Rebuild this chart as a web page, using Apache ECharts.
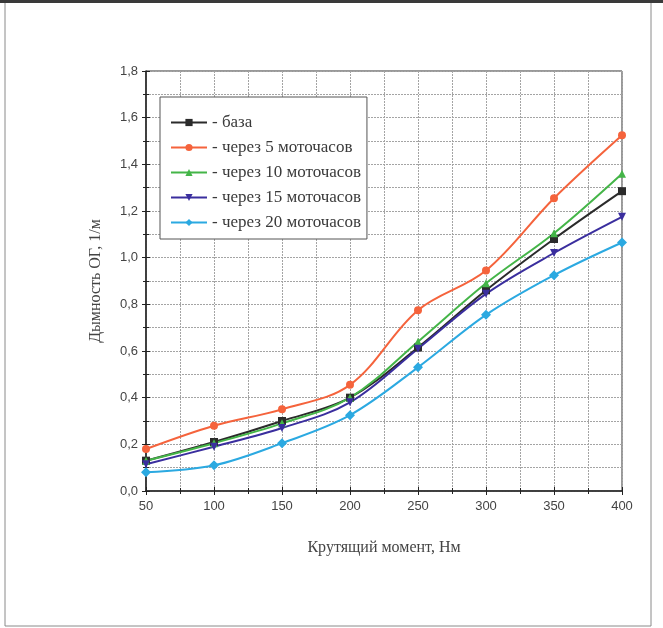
<!DOCTYPE html>
<html>
<head>
<meta charset="utf-8">
<script src="https://cdn.jsdelivr.net/npm/echarts@6/dist/echarts.min.js"></script>
<style>
  html, body { margin: 0; padding: 0; background: #fff; }
  #chart { width: 663px; height: 628px; }
</style>
</head>
<body>
<div id="chart"></div>
<script>
// Крутящий момент, Нм
const torque = [50, 100, 150, 200, 250, 300, 350, 400];

// Дымность ОГ, 1/м
const base   = [0.13, 0.21, 0.30, 0.40, 0.615, 0.86, 1.08, 1.285];
const after5  = [0.18, 0.28, 0.35, 0.455, 0.775, 0.945, 1.255, 1.525];
const after10 = [0.13, 0.205, 0.29, 0.40, 0.64, 0.89, 1.105, 1.36];
const after15 = [0.115, 0.19, 0.27, 0.38, 0.61, 0.845, 1.02, 1.175];
const after20 = [0.08, 0.11, 0.205, 0.325, 0.53, 0.755, 0.925, 1.065];

const yTicks = [0, 0.2, 0.4, 0.6, 0.8, 1.0, 1.2, 1.4, 1.6, 1.8];

const seriesDefs = [
  { name: 'база',               data: base,    color: '#2b2b2b', symbol: 'rect',     rotate: 0 },
  { name: 'через 5 моточасов',  data: after5,  color: '#f5633c', symbol: 'circle',   rotate: 0 },
  { name: 'через 10 моточасов', data: after10, color: '#44b548', symbol: 'triangle', rotate: 0 },
  { name: 'через 15 моточасов', data: after15, color: '#3a2e9e', symbol: 'triangle', rotate: 180 },
  { name: 'через 20 моточасов', data: after20, color: '#2ba9e1', symbol: 'diamond',  rotate: 0 }
];

const chart = echarts.init(document.getElementById('chart'), null, { renderer: 'canvas' });

const gridLine = { show: true, lineStyle: { color: '#a4a4a4', width: 1, type: [2, 1] } };
const axisText = { color: '#444', fontFamily: 'Liberation Sans', fontSize: 13 };

const option = {
  backgroundColor: '#fff',
  animation: false,
  graphic: [
    // page frame
    { type: 'rect', shape: { x: 5, y: 2, width: 646, height: 624 },
      style: { fill: 'none', stroke: '#8a8a8a', lineWidth: 1 }, silent: true },
    { type: 'line', shape: { x1: 0, y1: 1.5, x2: 663, y2: 1.5 },
      style: { stroke: '#3a3a3a', lineWidth: 3 }, silent: true }
  ],
  grid: {
    left: 146, right: 41, top: 71, bottom: 137,
    show: true, borderColor: '#333', borderWidth: 1, backgroundColor: 'transparent'
  },
  legend: {
    orient: 'vertical',
    left: 160, top: 97,
    padding: [17, 6, 8, 10],
    itemGap: 8,
    itemWidth: 36, itemHeight: 9,
    backgroundColor: '#fff',
    borderColor: '#555', borderWidth: 1,
    textStyle: { fontFamily: 'Liberation Serif', fontSize: 17, color: '#3a3a3a', lineHeight: 17 },
    formatter: name => '- ' + name,
    data: seriesDefs.map(s => s.name)
  },
  xAxis: [
    {
      type: 'value', min: 50, max: 400, interval: 50,
      name: 'Крутящий момент, Нм', nameLocation: 'middle', nameGap: 49,
      nameTextStyle: { fontFamily: 'Liberation Serif', fontSize: 16, color: '#444' },
      axisLine: { show: true, lineStyle: { color: '#222', width: 1.5 } },
      axisTick: { show: true, length: 4, lineStyle: { color: '#222' } },
      minorTick: { show: true, splitNumber: 2, length: 3, lineStyle: { color: '#222' } },
      axisLabel: Object.assign({ margin: 9 }, axisText),
      splitLine: gridLine,
      minorSplitLine: gridLine
    },
    {
      type: 'value', min: 50, max: 400, interval: 50, position: 'bottom', gridIndex: 0,
      axisLine: { show: false },
      axisTick: { show: true, inside: true, length: 4, lineStyle: { color: '#222' } },
      minorTick: { show: true, splitNumber: 2, length: 3, lineStyle: { color: '#222' } },
      axisLabel: { show: false }, splitLine: { show: false }
    }
  ],
  yAxis: [
    {
      type: 'value', min: 0, max: 1.8, interval: 0.2,
      name: 'Дымность ОГ, 1/м', nameLocation: 'middle', nameGap: 42,
      nameTextStyle: { fontFamily: 'Liberation Serif', fontSize: 16, color: '#444' },
      axisLine: { show: true, lineStyle: { color: '#222', width: 1.5 } },
      axisTick: { show: true, length: 4, lineStyle: { color: '#222' } },
      minorTick: { show: true, splitNumber: 2, length: 3, lineStyle: { color: '#222' } },
      axisLabel: Object.assign({
        margin: 8,
        formatter: v => {
          const t = yTicks.find(k => Math.abs(k - v) < 1e-6);
          return (t !== undefined ? t : v).toFixed(1).replace('.', ',');
        }
      }, axisText),
      splitLine: gridLine,
      minorSplitLine: gridLine
    },
    {
      type: 'value', min: 0, max: 1.8, interval: 0.2, position: 'left', gridIndex: 0,
      axisLine: { show: false },
      axisTick: { show: true, inside: true, length: 4, lineStyle: { color: '#222' } },
      minorTick: { show: true, splitNumber: 2, length: 3, lineStyle: { color: '#222' } },
      axisLabel: { show: false }, splitLine: { show: false }
    }
  ],
  series: seriesDefs.map(s => ({
    name: s.name,
    type: 'line',
    xAxisIndex: 0, yAxisIndex: 0,
    smooth: 0.35,
    data: torque.map((x, i) => [x, s.data[i]]),
    symbol: s.symbol,
    symbolRotate: s.rotate,
    symbolSize: s.symbol === 'diamond' ? 10 : 8,
    showSymbol: true,
    itemStyle: { color: s.color },
    lineStyle: { color: s.color, width: 2 }
  }))
};

chart.setOption(option);
</script>
</body>
</html>
